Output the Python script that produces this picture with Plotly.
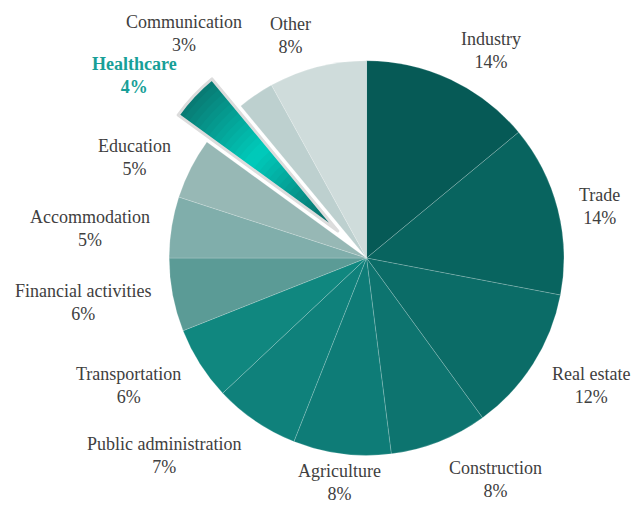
import math
import plotly.graph_objects as go

# Share of employment by sector, clockwise from 12 o'clock
sectors = ["Industry", "Trade", "Real estate", "Construction", "Agriculture",
           "Public administration", "Transportation", "Financial activities",
           "Accommodation", "Education", "Healthcare", "Communication", "Other"]
shares = [14, 14, 12, 8, 8, 7, 6, 6, 5, 5, 4, 3, 8]
highlight = "Healthcare"

slice_colors = ["#065a56", "#08645f", "#0b6c67", "#0d746f", "#0e7c77",
                "#0f817b", "#10877f", "#5b9b96", "#80aeab", "#97b8b5",
                "#0aa99c", "#bdd0cf", "#cfdcdb"]

FONT = "Liberation Serif"
FONT_SIZE = 18
TEXT_COLOR = "#404040"
HIGHLIGHT_COLOR = "#179f98"

W, H = 632, 505
PULL = 0.2
DOMAIN_X = [0.205, 0.955]
DOMAIN_Y = [0.02, 0.958]

hi = sectors.index(highlight)
pulls = [PULL if s == highlight else 0 for s in sectors]

common = dict(labels=sectors, values=shares, sort=False, direction="clockwise",
              rotation=0, pull=pulls, automargin=False,
              domain=dict(x=DOMAIN_X, y=DOMAIN_Y))

fig = go.Figure()

# Base pie
fig.add_trace(go.Pie(
    **common,
    marker=dict(colors=slice_colors,
                line=dict(color="rgba(255,255,255,0.3)", width=0.6)),
    textinfo="none", hoverinfo="label+percent", showlegend=False,
))


def mix(c1, c2, f):
    a = [int(c1[i:i + 2], 16) for i in (1, 3, 5)]
    b = [int(c2[i:i + 2], 16) for i in (1, 3, 5)]
    return "#" + "".join(f"{round(x + (y - x) * f):02x}" for x, y in zip(a, b))


# Radial shading of the highlighted slice, built from stacked rings
DARK, BRIGHT = "#0a6c67", "#00ccbc"
N_RINGS = 32
for k in range(N_RINGS):
    h = k / N_RINGS
    mid = (k + 0.5) / N_RINGS
    f = max(0.0, 1 - abs(mid - 0.56) / 0.5)
    ring_colors = ["rgba(0,0,0,0)"] * len(sectors)
    ring_colors[hi] = mix(DARK, BRIGHT, f)
    fig.add_trace(go.Pie(
        **common, hole=h,
        marker=dict(colors=ring_colors, line=dict(width=0)),
        textinfo="none", hoverinfo="skip", showlegend=False,
    ))

# Light outline around the pulled slice
outline = ["rgba(0,0,0,0)"] * len(sectors)
line_w = [0] * len(sectors)
line_w[hi] = 3
fig.add_trace(go.Pie(
    **common,
    marker=dict(colors=outline, line=dict(color="#dcdcdc", width=line_w)),
    textinfo="none", hoverinfo="skip", showlegend=False,
))

# Category labels placed just outside each slice, along its mid-angle
box_w = W * (DOMAIN_X[1] - DOMAIN_X[0])
box_h = H * (DOMAIN_Y[1] - DOMAIN_Y[0])
radius = min(box_w, box_h) / (2 + 2 * max(pulls))
cx = W * (DOMAIN_X[0] + DOMAIN_X[1]) / 2
cy = H * (1 - (DOMAIN_Y[0] + DOMAIN_Y[1]) / 2)
GAP = 20
LABEL_H = 42
UPPER_DROP = 8
total = sum(shares)

placed = []
cum = 0
for s, v, p in zip(sectors, shares, pulls):
    theta = 2 * math.pi * (cum + v / 2) / total
    cum += v
    ux, uy = math.sin(theta), -math.cos(theta)
    dist = radius * (1 + p) + GAP
    ax, ay = cx + dist * ux, cy + dist * uy
    if ux > 0.2:
        anchor = "left"
    elif ux < -0.2:
        anchor = "right"
    else:
        anchor = "center"
    yc = ay + uy * LABEL_H / 2 + (UPPER_DROP if uy < 0 else 0)
    # keep every label inside the figure
    yc = min(max(yc, LABEL_H / 2 + 2), H - LABEL_H / 2 - 2)

    bold = s == highlight
    est_w = len(s) * FONT_SIZE * (0.5 if bold else 0.45)
    x0 = {"left": ax, "right": ax - est_w, "center": ax - est_w / 2}[anchor]
    x1 = x0 + est_w
    # nudge away from labels already placed
    moved = True
    while moved:
        moved = False
        for bx0, bx1, by0, by1 in placed:
            if x0 < bx1 and x1 > bx0 and yc - LABEL_H / 2 < by1 and yc + LABEL_H / 2 > by0:
                yc = by0 - LABEL_H / 2 if uy < 0 else by1 + LABEL_H / 2
                moved = True
    placed.append((x0, x1, yc - LABEL_H / 2, yc + LABEL_H / 2))

    txt = f"{s}<br>{v}%"
    if bold:
        txt = f"<b>{txt}</b>"
    fig.add_annotation(
        x=ax / W, y=1 - yc / H, xref="paper", yref="paper",
        xanchor=anchor, yanchor="middle", align="center", showarrow=False,
        text=txt,
        font=dict(family=FONT, size=FONT_SIZE,
                  color=HIGHLIGHT_COLOR if bold else TEXT_COLOR),
    )

fig.update_layout(
    width=W, height=H,
    margin=dict(l=0, r=0, t=0, b=0, autoexpand=False),
    paper_bgcolor="white", plot_bgcolor="white",
    font=dict(family=FONT),
)

fig.write_html("out.html")
